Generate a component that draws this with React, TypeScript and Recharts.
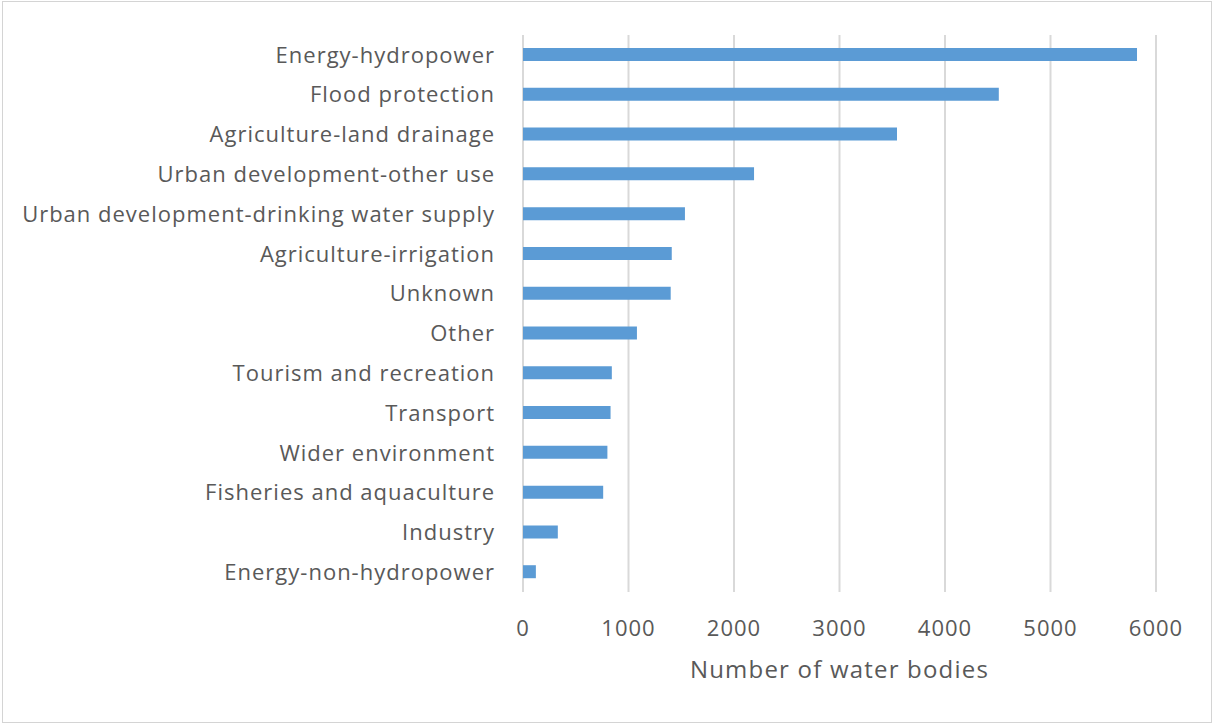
import { BarChart, Bar, XAxis, YAxis, CartesianGrid } from 'recharts';

const categories = [
  'Energy-hydropower',
  'Flood protection',
  'Agriculture-land drainage',
  'Urban development-other use',
  'Urban development-drinking water supply',
  'Agriculture-irrigation',
  'Unknown',
  'Other',
  'Tourism and recreation',
  'Transport',
  'Wider environment',
  'Fisheries and aquaculture',
  'Industry',
  'Energy-non-hydropower',
];

const waterBodies = [5820, 4510, 3545, 2190, 1535, 1410, 1400, 1080, 842, 830, 800, 760, 330, 122];

const xTicks = [0, 1000, 2000, 3000, 4000, 5000, 6000];

const chartData = categories.map((name, i) => ({ name, value: waterBodies[i] }));

const FONT = '"Open Sans", sans-serif';
const TEXT = '#595959';

export default function App() {
  return (
    <div style={{ position: 'absolute', left: 0, top: 0, width: 1216, height: 727, background: '#fff' }}>
      <div
        style={{
          position: 'absolute',
          left: 2,
          top: 1,
          width: 1210,
          height: 722,
          border: '1.5px solid #d4d4d4',
          boxSizing: 'border-box',
        }}
      />
      <BarChart
        layout="vertical"
        width={1216}
        height={727}
        data={chartData}
        margin={{ top: 35, right: 60, bottom: 35, left: 0 }}
        style={{ fontFamily: FONT }}
      >
        <CartesianGrid horizontal={false} stroke="#d9d9d9" strokeWidth={2} />
        <XAxis
          type="number"
          domain={[0, 6000]}
          ticks={xTicks}
          axisLine={false}
          tickLine={false}
          tickMargin={22}
          height={100}
          tick={{ fill: TEXT, fontSize: 22, fontFamily: FONT, letterSpacing: 1 }}
          label={{
            value: 'Number of water bodies',
            position: 'insideBottom',
            offset: 14,
            fill: TEXT,
            fontSize: 24,
            fontFamily: FONT,
            letterSpacing: 1.2,
          }}
        />
        <YAxis
          type="category"
          dataKey="name"
          width={523}
          axisLine={false}
          tickLine={false}
          tickMargin={22}
          interval={0}
          tick={{ fill: TEXT, fontSize: 22, fontFamily: FONT, letterSpacing: 1 }}
        />
        <Bar dataKey="value" fill="#5b9bd5" barSize={13} isAnimationActive={false} />
      </BarChart>
    </div>
  );
}
